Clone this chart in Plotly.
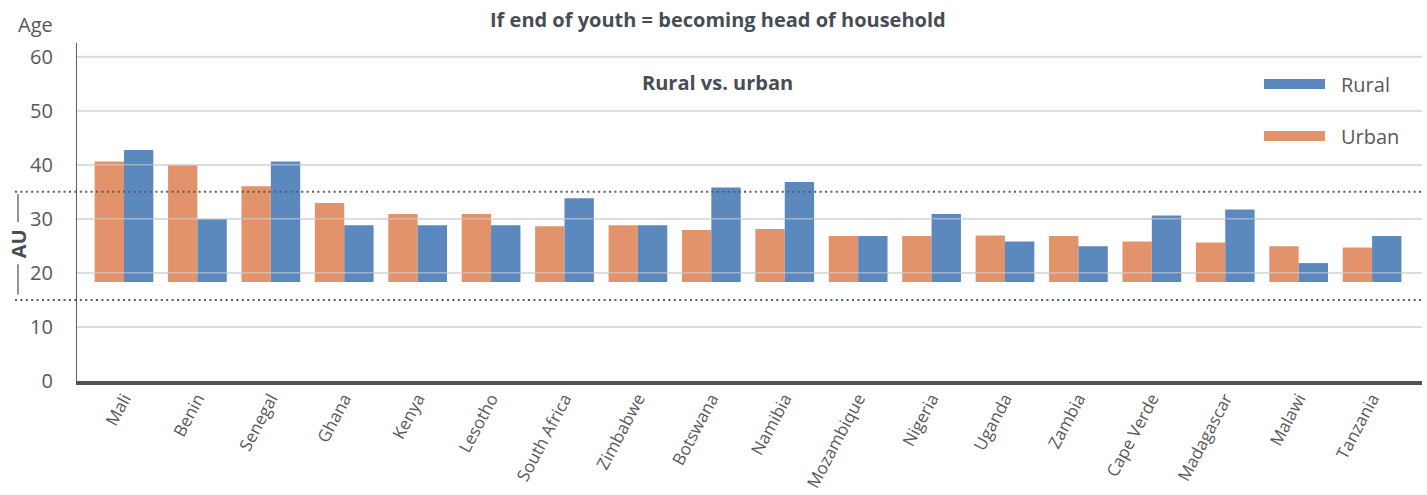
import plotly.graph_objects as go

countries = ["Mali", "Benin", "Senegal", "Ghana", "Kenya", "Lesotho", "South Africa",
             "Zimbabwe", "Botswana", "Namibia", "Mozambique", "Nigeria", "Uganda",
             "Zambia", "Cape Verde", "Madagascar", "Malawi", "Tanzania"]
urban = [40.6, 39.9, 36.0, 32.9, 30.9, 30.9, 28.6, 28.8, 27.9, 28.1, 26.8, 26.8, 26.9,
         26.8, 25.8, 25.6, 24.9, 24.7]
rural = [42.7, 29.9, 40.6, 28.8, 28.8, 28.8, 33.8, 28.8, 35.8, 36.8, 26.8, 30.9, 25.8,
         24.9, 30.6, 31.7, 21.8, 26.8]
bar_base = 18.3
y_ticks = [0, 10, 20, 30, 40, 50, 60]
au_band = [15, 35]

W, H = 1427, 495
L, R, T, B = 77, 5, 43, 114
PW, PH = W - L - R, H - T - B


def px(x):
    return (x - L) / PW


def py(y):
    return (H - B - y) / PH


ORANGE = "#E3936B"
BLUE = "#5B89BD"
TXT = "#595959"
DARK = "#474D54"
FONT = "Open Sans"

fig = go.Figure()
fig.add_trace(go.Bar(x=countries, y=[v - bar_base for v in urban], base=bar_base,
                     name="Urban", marker=dict(color=ORANGE, line=dict(width=0))))
fig.add_trace(go.Bar(x=countries, y=[v - bar_base for v in rural], base=bar_base,
                     name="Rural", marker=dict(color=BLUE, line=dict(width=0))))

shapes = []
# gridlines drawn over bars (semi-transparent)
for t in y_ticks[1:]:
    shapes.append(dict(type="line", xref="paper", yref="y", x0=0, x1=1, y0=t, y1=t,
                       line=dict(color="rgba(215,215,215,0.55)", width=1.5), layer="above"))
# AU band dotted lines
for v in au_band:
    shapes.append(dict(type="line", xref="paper", yref="y", x0=px(15), x1=1, y0=v, y1=v,
                       line=dict(color="#555B61", width=2, dash="2px,3.4px"), layer="above"))
# AU bracket lines
shapes.append(dict(type="line", xref="paper", yref="y", x0=px(18), x1=px(18), y0=34.6, y1=29.4,
                   line=dict(color="#6A6F74", width=1.5)))
shapes.append(dict(type="line", xref="paper", yref="y", x0=px(18), x1=px(18), y0=21.6, y1=16.0,
                   line=dict(color="#6A6F74", width=1.5)))
# legend swatches
shapes.append(dict(type="rect", xref="paper", yref="paper", x0=px(1264), x1=px(1325),
                   y0=py(89), y1=py(79), fillcolor=BLUE, line=dict(width=0)))
shapes.append(dict(type="rect", xref="paper", yref="paper", x0=px(1264), x1=px(1325),
                   y0=py(141), y1=py(131), fillcolor=ORANGE, line=dict(width=0)))

annotations = [
    dict(text="<b>If end of youth = becoming head of household</b>", xref="paper", yref="paper",
         x=px(718), y=py(19), xanchor="center", yanchor="middle", showarrow=False,
         font=dict(family=FONT, size=20, color=DARK)),
    dict(text="<b>Rural vs. urban</b>", xref="paper", yref="paper",
         x=px(717), y=py(82), xanchor="center", yanchor="middle", showarrow=False,
         font=dict(family=FONT, size=20, color=DARK)),
    dict(text="Age", xref="paper", yref="paper", x=px(35), y=py(25), xanchor="center",
         yanchor="middle", showarrow=False, font=dict(family=FONT, size=20, color=TXT)),
    dict(text="<b>AU</b>", xref="paper", yref="y", x=px(18), y=25.3, textangle=-90,
         xanchor="center", yanchor="middle", showarrow=False,
         font=dict(family=FONT, size=20, color=DARK)),
    dict(text="Rural", xref="paper", yref="paper", x=px(1339), y=py(85), xanchor="left",
         yanchor="middle", showarrow=False, font=dict(family=FONT, size=20, color=TXT)),
    dict(text="Urban", xref="paper", yref="paper", x=px(1339), y=py(136), xanchor="left",
         yanchor="middle", showarrow=False, font=dict(family=FONT, size=20, color=TXT)),
]

fig.update_layout(
    width=W, height=H,
    margin=dict(l=L, r=R, t=T, b=B, pad=0, autoexpand=False),
    paper_bgcolor="white", plot_bgcolor="white",
    barmode="group", bargap=0.2, bargroupgap=0,
    showlegend=False,
    shapes=shapes, annotations=annotations,
    font=dict(family=FONT, color=TXT),
    xaxis=dict(range=[-0.64, 17.68], showgrid=False, showline=True, linecolor="#4D5358",
               linewidth=4, tickangle=-62, ticks="", tickfont=dict(size=17, color=TXT),
               zeroline=False, automargin=False, ticklabelstandoff=-3),
    yaxis=dict(range=[0, 62.5], tickvals=y_ticks, showgrid=True, gridcolor="#E3E3E3",
               gridwidth=2, showline=True, linecolor="#5A6066", linewidth=1.2,
               zeroline=False, ticks="", ticklabelstandoff=19, automargin=False,
               tickfont=dict(size=20, color=TXT)),
)

fig.write_html("out.html", config={"displayModeBar": False},
               post_script="document.body.style.margin='0';document.body.style.overflow='hidden';")
